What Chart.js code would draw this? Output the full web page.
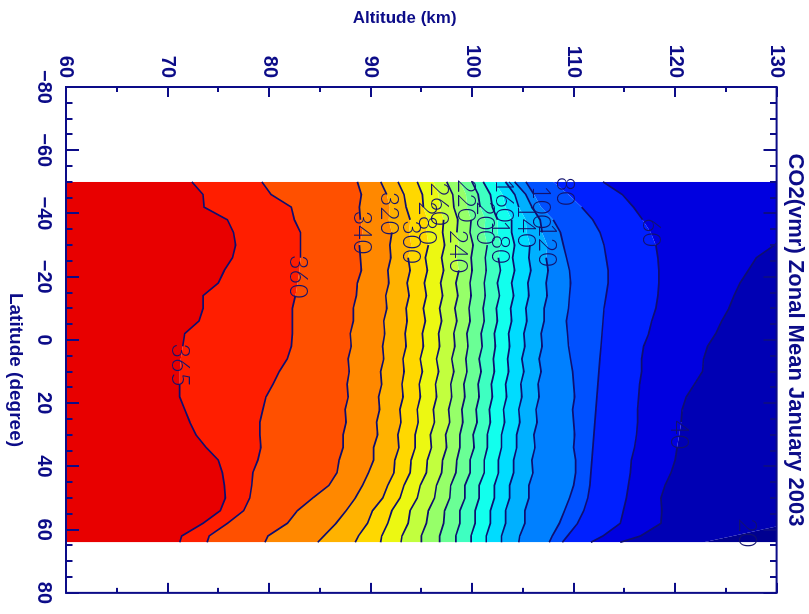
<!DOCTYPE html>
<html>
<head>
<meta charset="utf-8">
<title>CO2(vmr) Zonal Mean January 2003</title>
<script src="https://cdn.jsdelivr.net/npm/chart.js@4.4.1/dist/chart.umd.min.js"></script>
<style>
  html, body { margin: 0; padding: 0; background: #ffffff; width: 809px; height: 614px; overflow: hidden; }
  /* the plot is laid out with latitude along x and altitude along y, then turned a quarter clockwise */
  #wrap { position: absolute; left: 0; top: 0; width: 614px; height: 809px;
          transform-origin: 0 0; transform: translate(809px, 0) rotate(90deg); }
</style>
</head>
<body>
<div id="wrap"><canvas id="c" width="614" height="809"></canvas></div>
<script>
// latitude sample points (degrees) shared by every contour line
const LATITUDE = [-50,-46,-42,-38,-34,-30,-26,-22,-18,-14,-10,-6,-2,2,6,10,14,18,22,26,30,34,38,42,46,50,54,58,62,64];

// altitude (km) of each CO2 vmr contour level along LATITUDE
const alt365 = [72.4,73.5,73.6,75.9,76.5,76.7,76.4,75.6,75.0,73.5,73.5,73.1,71.7,71.5,71.3,71.2,71.2,71.2,71.7,72.2,72.8,73.8,75.0,75.4,75.6,75.7,75.2,73.5,71.4,71.2];
const alt360 = [79.3,80.2,82.2,82.5,83.1,83.1,83.1,83.0,82.8,82.6,82.3,82.3,82.3,82.2,81.8,81.0,80.4,79.7,79.4,79.1,79.1,79.2,78.9,78.4,78.3,78.1,77.5,75.9,74.1,73.9];
const alt340 = [88.7,89.1,88.9,89.0,89.2,88.9,89.0,89.1,88.7,88.6,88.3,88.3,88.0,88.1,87.8,87.9,87.7,87.8,87.5,87.6,87.3,87.3,86.9,86.7,85.9,84.3,82.8,81.8,79.9,79.6];
const alt320 = [91.0,91.6,91.9,91.8,92.1,91.9,92.0,91.7,91.8,91.5,91.6,91.3,91.4,91.2,91.3,91.0,91.1,90.8,90.9,90.6,90.7,90.3,90.3,89.8,89.2,88.5,87.6,86.6,85.4,84.8];
const alt300 = [92.7,93.3,93.5,93.9,93.8,94.0,93.7,93.9,93.6,93.8,93.5,93.6,93.4,93.5,93.2,93.3,93.1,93.2,92.9,93.0,92.7,92.8,92.4,92.3,91.7,91.2,90.2,89.7,88.8,88.5];
const alt280 = [94.6,95.1,95.2,95.6,95.5,95.7,95.4,95.6,95.3,95.5,95.2,95.4,95.1,95.2,94.9,95.1,94.8,94.9,94.6,94.7,94.4,94.4,94.0,93.9,93.3,92.9,92.1,91.7,91.1,91.0];
const alt260 = [96.2,96.7,96.8,97.2,97.1,97.3,97.0,97.2,96.9,97.1,96.8,97.0,96.7,96.8,96.5,96.7,96.4,96.5,96.2,96.3,95.9,96.0,95.6,95.5,94.9,94.6,93.9,93.7,93.1,93.0];
const alt240 = [97.5,98.1,98.2,98.6,98.5,98.7,98.5,98.7,98.4,98.6,98.3,98.5,98.2,98.3,98.0,98.2,97.9,98.0,97.7,97.8,97.4,97.5,97.1,97.0,96.5,96.3,95.7,95.5,95.0,95.0];
const alt220 = [98.8,99.4,99.5,99.9,99.8,100.1,99.9,100.0,99.8,99.9,99.7,99.8,99.5,99.6,99.4,99.5,99.2,99.3,99.0,99.1,98.8,98.8,98.5,98.4,97.9,97.8,97.3,97.2,96.8,96.8];
const alt200 = [100.0,100.6,100.8,101.3,101.2,101.5,101.3,101.4,101.2,101.3,101.1,101.2,100.9,101.0,100.7,100.9,100.6,100.7,100.4,100.5,100.1,100.2,99.8,99.8,99.3,99.3,98.8,98.8,98.4,98.4];
const alt180 = [101.1,101.8,102.0,102.5,102.5,102.8,102.6,102.8,102.5,102.7,102.4,102.5,102.2,102.3,102.1,102.2,101.9,102.0,101.7,101.8,101.5,101.5,101.2,101.2,100.7,100.7,100.3,100.3,99.9,99.9];
const alt160 = [102.2,103.0,103.3,103.9,103.9,104.2,104.0,104.2,103.9,104.1,103.8,103.9,103.6,103.7,103.5,103.6,103.3,103.4,103.1,103.2,102.9,102.9,102.6,102.6,102.2,102.2,101.8,101.8,101.4,101.4];
const alt140 = [103.3,104.2,104.6,105.3,105.4,105.7,105.6,105.8,105.5,105.6,105.3,105.4,105.1,105.2,104.9,105.1,104.8,104.9,104.6,104.7,104.4,104.4,104.1,104.1,103.7,103.7,103.3,103.3,102.9,102.9];
const alt120 = [104.2,105.3,105.9,106.7,106.9,107.4,107.3,107.5,107.3,107.4,107.1,107.1,106.8,106.9,106.6,106.8,106.5,106.6,106.3,106.4,106.1,106.2,105.9,106.0,105.6,105.6,105.2,105.2,104.7,104.6];
const alt100 = [105.3,106.1,106.8,108.0,108.7,109.0,109.3,109.6,109.7,109.6,109.5,109.3,109.4,109.5,109.7,109.9,110.0,110.1,109.9,110.0,110.1,110.0,110.2,110.2,110.0,109.6,109.1,108.6,107.9,107.6];
const alt80  = [108.0,109.5,110.8,111.9,112.6,113.0,113.2,113.4,113.4,113.2,113.0,112.9,112.8,112.7,112.6,112.5,112.4,112.3,112.2,112.1,112.0,111.9,111.8,111.7,111.6,111.4,111.0,110.4,109.4,108.9];
const alt60  = [112.9,114.8,115.9,116.8,117.6,118.1,118.3,118.4,118.4,118.3,118.1,117.7,117.4,116.9,116.7,116.7,116.5,116.4,116.3,116.3,116.2,116.0,115.7,115.6,115.4,115.2,114.9,114.6,112.9,111.7];
const alt40  = [137.0,135.5,134.0,132.5,131.0,129.8,128.0,127.2,126.4,125.8,125.3,124.6,124.0,123.2,122.8,122.7,121.9,121.1,120.7,120.6,120.4,120.2,120.0,119.6,119.0,118.6,118.7,118.6,116.6,114.6];
const alt20  = [140,140,140,140,140,140,140,140,140,140,140,140,140,140,140,140,140,140,140,140,140,140,140,140,140,140,137,131.4,125.7,122.8];

// contour levels, lowest altitude first
const LEVELS = [365,360,340,320,300,280,260,240,220,200,180,160,140,120,100,80,60,40,20];
const LEVEL_ALTS = [alt365,alt360,alt340,alt320,alt300,alt280,alt260,alt240,alt220,alt200,alt180,alt160,alt140,alt120,alt100,alt80,alt60,alt40,alt20];

// where each level's value is written along its line (latitude)
const LABEL_LEVELS = [365,360,340,320,300,280,260,240,220,200,180,160,140,120,100,80,60,40,20];
const LABEL_LATS   = [8,-20,-34,-40,-31,-37,-43,-28,-44,-37,-31,-44,-36,-30,-42,-47,-34,30,61];

// axis tick labels
const LAT_TICKS = [-80,-60,-40,-20,0,20,40,60,80];
const ALT_TICKS = [60,70,80,90,100,110,120,130];

// filled band colours, from below the first level to above the last
const BAND_COLORS = ['#e80000','#ff1e00','#ff5000','#ff8800','#ffb200','#ffd800','#ecf812','#c2ff3e',
                     '#96ff69','#6aff95','#3effc1','#12ffed','#00dcff','#00b0ff','#0080ff','#0050ff',
                     '#0020ff','#0000e0','#0000b4','#000090'];

const NAVY = '#0c0c88';
const LINE_COLOR = '#0e0e70';
const LABEL_COLOR = '#12126e';
const FONT = '"Liberation Sans", Arial, sans-serif';

function interp(xs, ys, v) {
  for (let i = 0; i < xs.length - 1; i++) {
    if (v >= xs[i] && v <= xs[i + 1]) {
      const t = (v - xs[i]) / (xs[i + 1] - xs[i]);
      return ys[i] + t * (ys[i + 1] - ys[i]);
    }
  }
  return ys[ys.length - 1];
}

const points = alts => LATITUDE.map((lat, j) => ({ x: lat, y: alts[j] }));

// filled bands between consecutive levels
const bandSets = LEVELS.map((level, i) => ({
  label: 'band ' + level,
  data: points(LEVEL_ALTS[i]),
  fill: i === 0 ? 'start' : '-1',
  backgroundColor: BAND_COLORS[i],
  borderWidth: 0,
  pointRadius: 0,
  tension: 0
}));
bandSets.push({
  label: 'band top',
  data: points(alt20),
  fill: 'end',
  backgroundColor: BAND_COLORS[BAND_COLORS.length - 1],
  borderWidth: 0,
  pointRadius: 0
});

// contour lines, left open where their value is written
const lineSets = LEVELS.map((level, i) => {
  const k = LABEL_LEVELS.indexOf(level);
  const gapLat = k < 0 ? null : LABEL_LATS[k];
  return {
    label: String(level),
    data: points(LEVEL_ALTS[i]),
    fill: false,
    borderColor: LINE_COLOR,
    borderWidth: 1.7,
    pointRadius: 0,
    tension: 0,
    segment: {
      borderColor: ctx => {
        if (gapLat === null) return LINE_COLOR;
        const mid = (ctx.p0.parsed.x + ctx.p1.parsed.x) / 2;
        return Math.abs(mid - gapLat) < 6 ? 'rgba(0,0,0,0)' : LINE_COLOR;
      }
    }
  };
});

// contour value labels
const contourLabels = {
  id: 'contourLabels',
  afterDatasetsDraw(chart) {
    const { ctx, chartArea: a, scales: { x, y } } = chart;
    ctx.save();
    ctx.beginPath();
    ctx.rect(a.left, a.top, a.right - a.left, a.bottom - a.top);
    ctx.clip();
    ctx.font = '300 25px Lato, "DejaVu Sans", sans-serif';
    ctx.fillStyle = LABEL_COLOR;
    ctx.textAlign = 'center';
    ctx.textBaseline = 'middle';
    LABEL_LEVELS.forEach((level, k) => {
      const lat = LABEL_LATS[k];
      const alts = LEVEL_ALTS[LEVELS.indexOf(level)];
      const alt = interp(LATITUDE, alts, lat);
      ctx.fillText(String(level), x.getPixelForValue(lat), y.getPixelForValue(alt));
    });
    ctx.restore();
  }
};

// plot box with inward major and minor ticks on all four sides, plus axis titles
const boxAndTicks = {
  id: 'boxAndTicks',
  afterDraw(chart) {
    const { ctx, chartArea: a, scales: { x, y } } = chart;
    ctx.save();
    ctx.strokeStyle = NAVY;
    ctx.lineWidth = 2;
    ctx.lineCap = 'butt';
    ctx.strokeRect(a.left, a.top, a.right - a.left, a.bottom - a.top);
    const seg = (x1, y1, x2, y2) => { ctx.beginPath(); ctx.moveTo(x1, y1); ctx.lineTo(x2, y2); ctx.stroke(); };
    for (let v = x.min; v <= x.max; v += 5) {
      const px = Math.round(x.getPixelForValue(v));
      const len = LAT_TICKS.includes(v) ? 13 : 6.5;
      seg(px, a.bottom, px, a.bottom - len);
      seg(px, a.top, px, a.top + len);
    }
    for (let v = y.min; v <= y.max; v += 5) {
      const py = Math.round(y.getPixelForValue(v));
      const len = ALT_TICKS.includes(v) ? 10 : 5;
      seg(a.left, py, a.left + len, py);
      seg(a.right, py, a.right - len, py);
    }

    // axis titles
    ctx.fillStyle = NAVY;
    ctx.textAlign = 'center';
    ctx.textBaseline = 'middle';
    ctx.font = 'bold 19px ' + FONT;
    ctx.fillText('Latitude (degree)', a.left + 283, chart.height - 15);
    ctx.font = 'bold 17px ' + FONT;
    ctx.save();
    ctx.translate(18, a.top + 372);
    ctx.rotate(-Math.PI / 2);
    ctx.fillText('Altitude (km)', 0, 0);
    ctx.restore();
    ctx.restore();
  }
};

new Chart(document.getElementById('c'), {
  type: 'line',
  data: { datasets: bandSets.concat(lineSets) },
  plugins: [contourLabels, boxAndTicks],
  options: {
    responsive: false,
    devicePixelRatio: 1,
    animation: false,
    events: [],
    layout: { padding: { left: 0, right: 21, top: 0, bottom: 0 } },
    plugins: {
      legend: { display: false },
      tooltip: { enabled: false },
      title: {
        display: true,
        fullSize: false,
        text: 'CO2(vmr) Zonal Mean January 2003',
        color: NAVY,
        font: { family: FONT, size: 22, weight: 'bold' },
        padding: { top: 1, bottom: 5 }
      },
      // all bands first, every contour line on top of them
      filler: { propagate: false, drawTime: 'beforeDatasetsDraw' }
    },
    scales: {
      x: {
        type: 'linear',
        position: 'bottom',
        min: -80, max: 80,
        afterBuildTicks: s => { s.ticks = LAT_TICKS.map(v => ({ value: v })); },
        afterFit: s => { s.height = 66; },
        grid: { display: false, drawTicks: false },
        border: { display: false },
        ticks: {
          color: NAVY, padding: 10, maxRotation: 0, autoSkip: false,
          font: { family: FONT, size: 20, weight: 'bold' },
          callback: v => (v < 0 ? '\u2212' + Math.abs(v) : String(v))
        },
        title: { display: false }
      },
      y: {
        type: 'linear',
        position: 'left',
        min: 60, max: 130,
        afterBuildTicks: s => { s.ticks = ALT_TICKS.map(v => ({ value: v })); },
        afterFit: s => { s.width = 87; },
        grid: { display: false, drawTicks: false },
        border: { display: false },
        ticks: {
          color: NAVY, padding: 9,
          font: { family: FONT, size: 20, weight: 'bold' },
          callback: v => String(v)
        },
        title: { display: false }
      }
    }
  }
});
</script>
</body>
</html>
